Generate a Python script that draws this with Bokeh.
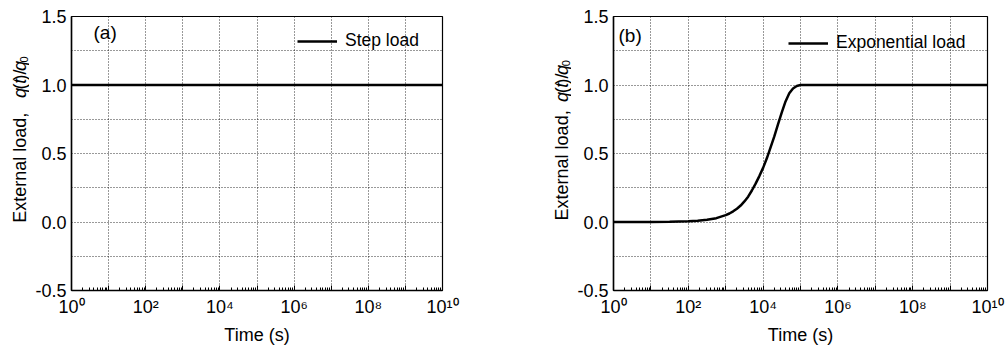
from bokeh.plotting import figure
from bokeh.layouts import row
from bokeh.models import FixedTicker, Label, Legend, LegendItem
from bokeh.core.properties import value
from bokeh.embed import file_html
from bokeh.resources import INLINE

FONT = "Liberation Sans"

# ---------------- data ----------------
decade_exponents = list(range(0, 11))
x_tick_labels = {0: "10⁰", 2: "10²", 4: "10⁴", 6: "10⁶", 8: "10⁸", 10: "10¹⁰"}
y_ticks = [-0.5, 0.0, 0.5, 1.0, 1.5]
y_tick_labels = ["-0.5", "0.0", "0.5", "1.0", "1.5"]
y_minor_ticks = [-0.25, 0.25, 0.75, 1.25]

# (a) step load: time exponent (log10 s) and q(t)/q0
step_time_exp = [0, 10]
step_load = [1.0, 1.0]

# (b) exponential load
exp_time_exp = [0, 1, 1.5, 2, 2.25, 2.5, 2.75, 3.0, 3.1, 3.2, 3.3, 3.4, 3.5, 3.6,
                3.7, 3.8, 3.9, 4.0, 4.1, 4.2, 4.3, 4.4, 4.5, 4.6, 4.7, 4.8, 4.9,
                5.0, 10]
exp_load = [0.0, 0.0005, 0.002, 0.005, 0.009, 0.016, 0.028, 0.05, 0.062, 0.078,
            0.097, 0.12, 0.15, 0.185, 0.23, 0.28, 0.335, 0.395, 0.465, 0.545,
            0.625, 0.715, 0.80, 0.88, 0.94, 0.975, 0.993, 1.0, 1.0]

panel_tags = ["(a)", "(b)"]
legend_labels = ["Step load", "Exponential load"]
y_title_parts = ["External load,", "q", "(", "t", ")/", "q", "0"]

H = 356


def make_title_fig(width, cx, y0, gap):
    """Narrow blank figure carrying the rotated y-axis title."""
    p = figure(width=width, height=H, x_range=(0, width), y_range=(0, H),
               output_backend="svg", toolbar_location=None,
               min_border=0, x_axis_location=None, y_axis_location=None)
    p.xgrid.visible = False
    p.ygrid.visible = False
    p.outline_line_color = None
    p.background_fill_color = "white"
    p.border_fill_color = "white"
    fs = 18
    em = fs / 1000.0
    # advance widths (Arial/Liberation metrics, 1/1000 em)
    widths = [6114 * em, 556 * em, 333 * em, 278 * em, 611 * em, 556 * em, 556 * 11 / 1000]
    extra = [gap, 0, 1, 1, 1, 0, 0]   # spacing after each piece
    styles = ["normal", "italic", "normal", "italic", "normal", "italic", "normal"]
    sizes = [fs, fs, fs, fs, fs, fs, 11]
    dxs = [0, 0, 0, 0, 0, 0, 4]
    pos = y0
    for text, w, ex, st, sz, dx in zip(y_title_parts, widths, extra, styles, sizes, dxs):
        p.text(x=[cx + dx], y=[pos + w], text=[text], angle=90, angle_units="deg",
               text_baseline="middle", text_align="right",
               text_font=value(FONT), text_font_size=f"{sz}px",
               text_font_style=st, text_color="black")
        pos += w + ex
    return p


def make_panel(width, bl, br, bt, bb, time_exp, load, tag, tag_pos,
               legend_label, legend_loc):
    p = figure(width=width, height=H, x_axis_type="log",
               x_range=(1, 1e10), y_range=(-0.5, 1.5),
               output_backend="svg", toolbar_location=None,
               min_border_left=bl, min_border_right=br,
               min_border_top=bt, min_border_bottom=bb)
    p.background_fill_color = "white"
    p.border_fill_color = "white"
    p.outline_line_color = "black"
    p.outline_line_width = 1.2

    # x axis
    xt = FixedTicker(ticks=[10.0 ** k for k in decade_exponents],
                     minor_ticks=[m * 10.0 ** k for k in decade_exponents[:-1] for m in range(2, 10)])
    xa = p.xaxis[0]
    xa.ticker = xt
    xa.major_label_overrides = {10.0 ** k: x_tick_labels.get(k, "") for k in decade_exponents}
    xa.major_tick_in = 5
    xa.major_tick_out = 0
    xa.minor_tick_in = 3
    xa.minor_tick_out = 0
    xa.axis_line_width = 1.5
    xa.major_label_text_font = FONT
    xa.major_label_text_font_size = "18px"
    xa.major_label_text_color = "black"
    xa.major_label_standoff = 6
    xa.axis_label = "Time (s)"
    xa.axis_label_text_font = FONT
    xa.axis_label_text_font_size = "18px"
    xa.axis_label_text_font_style = "normal"
    xa.axis_label_text_color = "black"
    xa.axis_label_standoff = 5

    # y axis
    ya = p.yaxis[0]
    ya.ticker = FixedTicker(ticks=y_ticks, minor_ticks=y_minor_ticks)
    ya.major_label_overrides = {t: s for t, s in zip(y_ticks, y_tick_labels)}
    ya.major_tick_in = 0
    ya.major_tick_out = 0
    ya.minor_tick_in = 0
    ya.minor_tick_out = 0
    ya.axis_line_width = 1.5
    ya.major_label_text_font = FONT
    ya.major_label_text_font_size = "18px"
    ya.major_label_text_color = "black"
    ya.major_label_standoff = 5

    # dotted grids
    for g in (p.xgrid[0], p.ygrid[0]):
        g.grid_line_color = "black"
        g.grid_line_alpha = 0.8
        g.grid_line_dash = "1 2"
        g.grid_line_width = 1
    p.ygrid[0].minor_grid_line_color = "black"
    p.ygrid[0].minor_grid_line_alpha = 0.8
    p.ygrid[0].minor_grid_line_dash = "1 2"
    p.ygrid[0].minor_grid_line_width = 1

    t = [10.0 ** e for e in time_exp]
    r = p.line(t, load, line_color="black", line_width=2.5)

    leg = Legend(items=[LegendItem(label=legend_label, renderers=[r])],
                 location=legend_loc, border_line_color=None,
                 background_fill_alpha=0, padding=0, margin=0, spacing=0,
                 glyph_width=40, glyph_height=20, label_standoff=8,
                 label_height=20, label_text_font=FONT,
                 label_text_font_size="17.5px", label_text_color="black")
    p.add_layout(leg)

    p.add_layout(Label(x=tag_pos[0], y=tag_pos[1], x_units="screen", y_units="screen",
                       text=tag, text_baseline="middle", text_align="left",
                       text_font=FONT, text_font_size="19px", text_color="black"))
    return p


# left block: title strip 0-29, panel 29-500 (frame 71-442)
t1 = make_title_fig(29, 19, H - 235, 22)
p1 = make_panel(471, 42, 58, 16, 65, step_time_exp, step_load, panel_tags[0],
                (22, 258), legend_labels[0], (226, 239))
# right block: title strip 500-571, panel 571-1007 (frame 613-987)
t2 = make_title_fig(71, 61, H - 232, 14)
p2 = make_panel(436, 42, 20, 13, 66, exp_time_exp, exp_load, panel_tags[1],
                (5, 255), legend_labels[1], (175, 237))

layout = row(t1, p1, t2, p2)
open("out.html", "w").write(file_html(layout, INLINE))
